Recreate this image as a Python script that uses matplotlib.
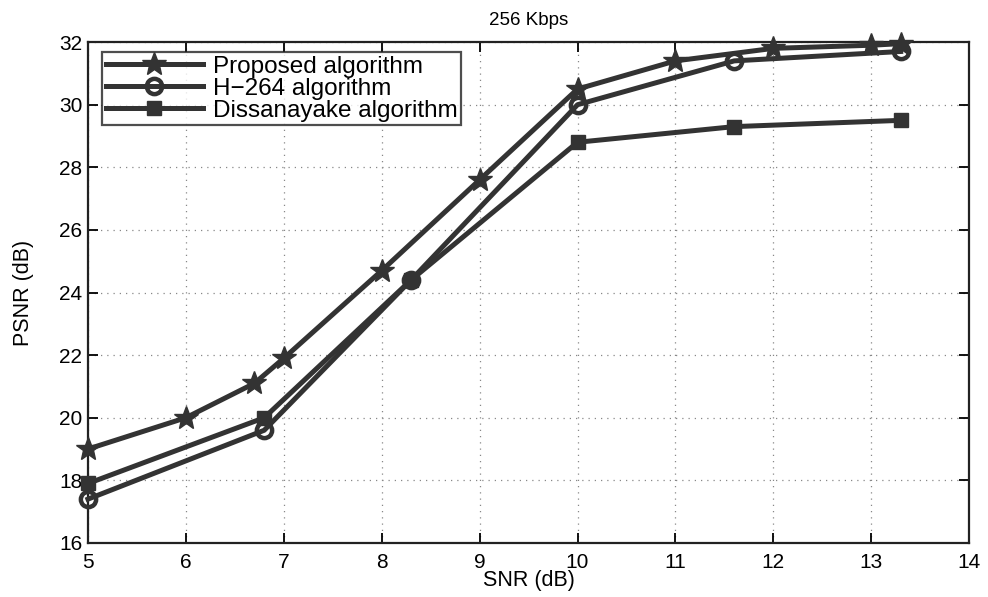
import numpy as np
import matplotlib
matplotlib.use("Agg")
import matplotlib.pyplot as plt

plt.rcParams['font.family'] = ['Liberation Sans', 'DejaVu Sans']

# data
snr_prop = [5, 6, 6.7, 7, 8, 9, 10, 11, 12, 13, 13.3]
psnr_prop = [19.0, 20.0, 21.1, 21.9, 24.7, 27.6, 30.5, 31.4, 31.8, 31.9, 31.95]

snr_h264 = [5, 6.8, 8.3, 10, 11.6, 13.3]
psnr_h264 = [17.4, 19.6, 24.4, 30.0, 31.4, 31.7]

snr_diss = [5, 6.8, 8.3, 10, 11.6, 13.3]
psnr_diss = [17.9, 20.0, 24.4, 28.8, 29.3, 29.5]

col = '#333333'

fig = plt.figure(figsize=(9.88, 5.97), dpi=100)
ax = fig.add_axes([0.089, 0.0905, 0.892, 0.839])

ax.plot(snr_prop, psnr_prop, color=col, lw=3.6, marker='*', ms=18,
        mfc=col, mec=col, label='Proposed algorithm', clip_on=False, zorder=3)
ax.plot(snr_h264, psnr_h264, color=col, lw=3.6, marker='o', ms=11,
        mfc='none', mec=col, mew=3.2, label='H\u2212264 algorithm', clip_on=False, zorder=3)
ax.plot(snr_diss, psnr_diss, color=col, lw=3.6, marker='s', ms=10,
        mfc=col, mec=col, label='Dissanayake algorithm', clip_on=False, zorder=3)

ax.set_xlim(5, 14)
ax.set_ylim(16, 32)
ax.set_xticks(np.arange(5, 15, 1))
ax.set_yticks(np.arange(16, 33, 2))
ax.tick_params(direction='in', length=7, width=1.3, labelsize=15, top=True, right=True)
ax.tick_params(axis='x', pad=7)
ax.tick_params(axis='y', pad=4)
ax.grid(True, linestyle=(0, (1, 4)), color='#888888', lw=0.9)
for s in ax.spines.values():
    s.set_linewidth(1.6)
    s.set_color('#222222')

ax.set_xlabel('SNR (dB)', fontsize=15.5, labelpad=-1)
ax.set_ylabel('PSNR (dB)', fontsize=15.5, labelpad=18)
ax.set_title('256 Kbps', fontsize=13.5, pad=12)

leg = ax.legend(loc='upper left', fontsize=17.5, frameon=True, fancybox=False,
                edgecolor='#222222', borderpad=0.15, labelspacing=0.0,
                handlelength=4.0, handletextpad=0.4, borderaxespad=0,
                bbox_to_anchor=(0.016, 0.98))
leg.get_frame().set_linewidth(1.6)

fig.savefig('out.png', dpi=100)
